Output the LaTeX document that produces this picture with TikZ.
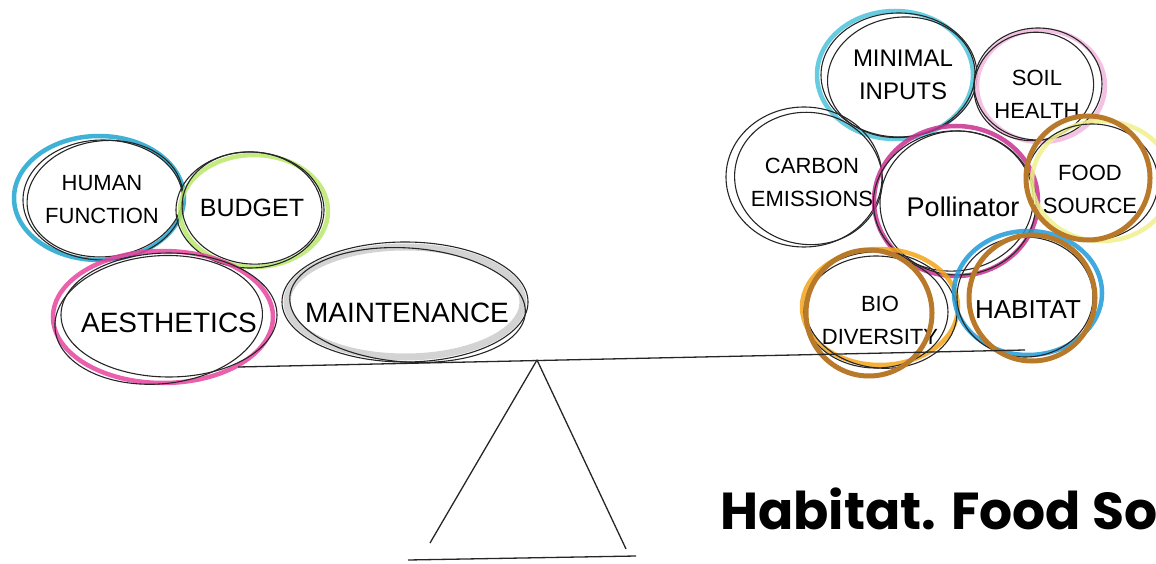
\documentclass[tikz,border=0pt]{standalone}
\usepackage{fontspec}
\newfontfamily\hand{Liberation Sans}
\newfontfamily\titlefont{Poppins}
\usetikzlibrary{backgrounds}
\definecolor{hcyan}{HTML}{1EA4CF}
\definecolor{mcyan}{HTML}{4CC3D9}
\definecolor{bgreen}{HTML}{B9E86A}
\definecolor{amag}{HTML}{E8449E}
\definecolor{pmag}{HTML}{C8308F}
\definecolor{spink}{HTML}{F2B6DE}
\definecolor{fyel}{HTML}{EEF08A}
\definecolor{borange}{HTML}{F2A51A}
\definecolor{hblue}{HTML}{1F9AD8}
\definecolor{mgray}{HTML}{A8A8A8}
\definecolor{ringbrown}{HTML}{B87A2A}
\begin{document}
\begin{tikzpicture}[x=1pt,y=-1pt,
  ink/.style={draw=black!85, line width=1.1pt},
  crayon/.style={line width=4.5pt, draw opacity=0.85},
  ring/.style={draw=ringbrown, line width=5pt},
  lbl/.style={font=\hand\fontsize{22}{33}\selectfont, align=center, inner sep=0pt},
  midlbl/.style={font=\hand\fontsize{25}{33}\selectfont, align=center, inner sep=0pt},
  biglbl/.style={font=\hand\fontsize{28}{32}\selectfont, align=center, inner sep=0pt},
  beam/.style={draw=black!85, line width=1.3pt}]
\useasboundingbox (0,0) rectangle (1156,564);
\clip (0,0) rectangle (1156,564);

% labels (nodes)
\node[lbl] (hf) at (102,200) {HUMAN\\FUNCTION};
\node[midlbl] (bud) at (252,208) {BUDGET};
\node[biglbl] (aes) at (169,323) {AESTHETICS};
\node[biglbl] (mnt) at (407,313) {MAINTENANCE};
\node[font=\hand\fontsize{24}{33}\selectfont, align=center, inner sep=0pt] (mi) at (903,75) {MINIMAL\\INPUTS};
\node[lbl] (sh) at (1037,94) {SOIL\\HEALTH};
\node[lbl] (ce) at (812,182) {CARBON\\EMISSIONS};
\node[font=\hand\fontsize{27}{33}\selectfont, inner sep=0pt] (pol) at (963,207) {Pollinator};
\node[lbl] (fs) at (1090,189) {FOOD\\SOURCE};
\node[lbl] (bio) at (880,320) {BIO\\DIVERSITY};
\node[font=\hand\fontsize{26}{33}\selectfont, inner sep=0pt] (hab) at (1028,310) {HABITAT};

\begin{scope}[on background layer]
% Human function
\draw[crayon, draw=hcyan] ([shift={(-3,-2)}]hf.center) ellipse [x radius=85pt, y radius=62pt];
\draw[ink] ([shift={(1,0)}]hf.center) ellipse [x radius=80pt, y radius=60pt];
\draw[ink, rotate around={6:(hf.center)}] ([shift={(3,-1)}]hf.center) ellipse [x radius=78pt, y radius=58pt];
% Budget
\draw[crayon, draw=bgreen] ([shift={(2,3)}]bud.center) ellipse [x radius=74pt, y radius=56pt];
\draw[ink] ([shift={(-2,2)}]bud.center) ellipse [x radius=74pt, y radius=58pt];
\draw[ink, rotate around={-5:(bud.center)}] ([shift={(0,0)}]bud.center) ellipse [x radius=70pt, y radius=56pt];
% Aesthetics
\draw[crayon, draw=amag] ([shift={(-6,-6)}]aes.center) ellipse [x radius=110pt, y radius=66pt];
\draw[ink] ([shift={(0,-8)}]aes.center) ellipse [x radius=108pt, y radius=62pt];
\draw[ink, rotate around={5:(aes.center)}] ([shift={(-10,-4)}]aes.center) ellipse [x radius=104pt, y radius=64pt];
% Maintenance
\draw[line width=7pt, draw=mgray, draw opacity=0.5] ([shift={(-2,-11)}]mnt.center) ellipse [x radius=118pt, y radius=55pt];
\draw[ink] ([shift={(-2,-11)}]mnt.center) ellipse [x radius=123pt, y radius=60pt];
\draw[ink, rotate around={-4:(mnt.center)}] ([shift={(0,-8)}]mnt.center) ellipse [x radius=118pt, y radius=57pt];
% Minimal inputs
\draw[crayon, draw=mcyan] ([shift={(-8,0)}]mi.center) ellipse [x radius=78pt, y radius=64pt];
\draw[ink] ([shift={(-4,0)}]mi.center) ellipse [x radius=78pt, y radius=62pt];
\draw[ink, rotate around={8:(mi.center)}] ([shift={(-2,2)}]mi.center) ellipse [x radius=74pt, y radius=60pt];
% Soil health
\draw[crayon, draw=spink] ([shift={(4,-8)}]sh.center) ellipse [x radius=64pt, y radius=56pt];
\draw[ink] ([shift={(1,-10)}]sh.center) ellipse [x radius=64pt, y radius=56pt];
\draw[ink, rotate around={10:(sh.center)}] ([shift={(-2,-8)}]sh.center) ellipse [x radius=60pt, y radius=54pt];
% Carbon emissions
\draw[ink] ([shift={(-8,-5)}]ce.center) ellipse [x radius=78pt, y radius=70pt];
\draw[ink, rotate around={-8:(ce.center)}] ([shift={(-4,-3)}]ce.center) ellipse [x radius=74pt, y radius=66pt];
% Pollinator
\draw[crayon, draw=pmag] ([shift={(-7,-6)}]pol.center) ellipse [x radius=82pt, y radius=75pt];
\draw[ink] ([shift={(-5,-4)}]pol.center) ellipse [x radius=78pt, y radius=72pt];
\draw[ink, rotate around={6:(pol.center)}] ([shift={(-9,-7)}]pol.center) ellipse [x radius=80pt, y radius=70pt];
% Food source
\draw[crayon, draw=fyel] ([shift={(12,-8)}]fs.center) ellipse [x radius=70pt, y radius=60pt];
\draw[ink] ([shift={(2,-7)}]fs.center) ellipse [x radius=66pt, y radius=58pt];
% Bio diversity
\draw[crayon, draw=borange] ([shift={(0,-13)}]bio.center) ellipse [x radius=78pt, y radius=58pt];
\draw[ink] ([shift={(-4,-8)}]bio.center) ellipse [x radius=72pt, y radius=56pt];
\draw[ink, rotate around={-6:(bio.center)}] ([shift={(0,-10)}]bio.center) ellipse [x radius=76pt, y radius=58pt];
% Habitat
\draw[crayon, draw=hblue] ([shift={(0,-17)}]hab.center) ellipse [x radius=74pt, y radius=62pt];
\draw[ink] ([shift={(-3,-13)}]hab.center) ellipse [x radius=68pt, y radius=60pt];
\end{scope}

% brown highlight rings
\draw[ring] ([shift={(-2,-11)}]fs.center) circle [radius=62pt];
\draw[ring] ([shift={(-11,-7)}]bio.center) circle [radius=63pt];
\draw[ring] ([shift={(4,-12)}]hab.center) circle [radius=63pt];

% seesaw
\coordinate (beamL) at (238,367);
\coordinate (beamR) at (1025,350);
\coordinate (apex) at (537,360);
\coordinate (footL) at (430,543);
\coordinate (footR) at (626,549);
\coordinate (baseL) at (408,560);
\coordinate (baseR) at (636,556);
\draw[beam] (beamL) -- (beamR);
\draw[beam, line join=round] (footL) -- (apex) -- (footR);
\draw[beam] (baseL) -- (baseR);

% title (cut off at the right edge, as in the reference)
\node[anchor=base west, inner sep=0pt, font=\titlefont\bfseries\fontsize{52}{60}\selectfont] (title) at (720,529) {Habitat. Food So};
\end{tikzpicture}
\end{document}
